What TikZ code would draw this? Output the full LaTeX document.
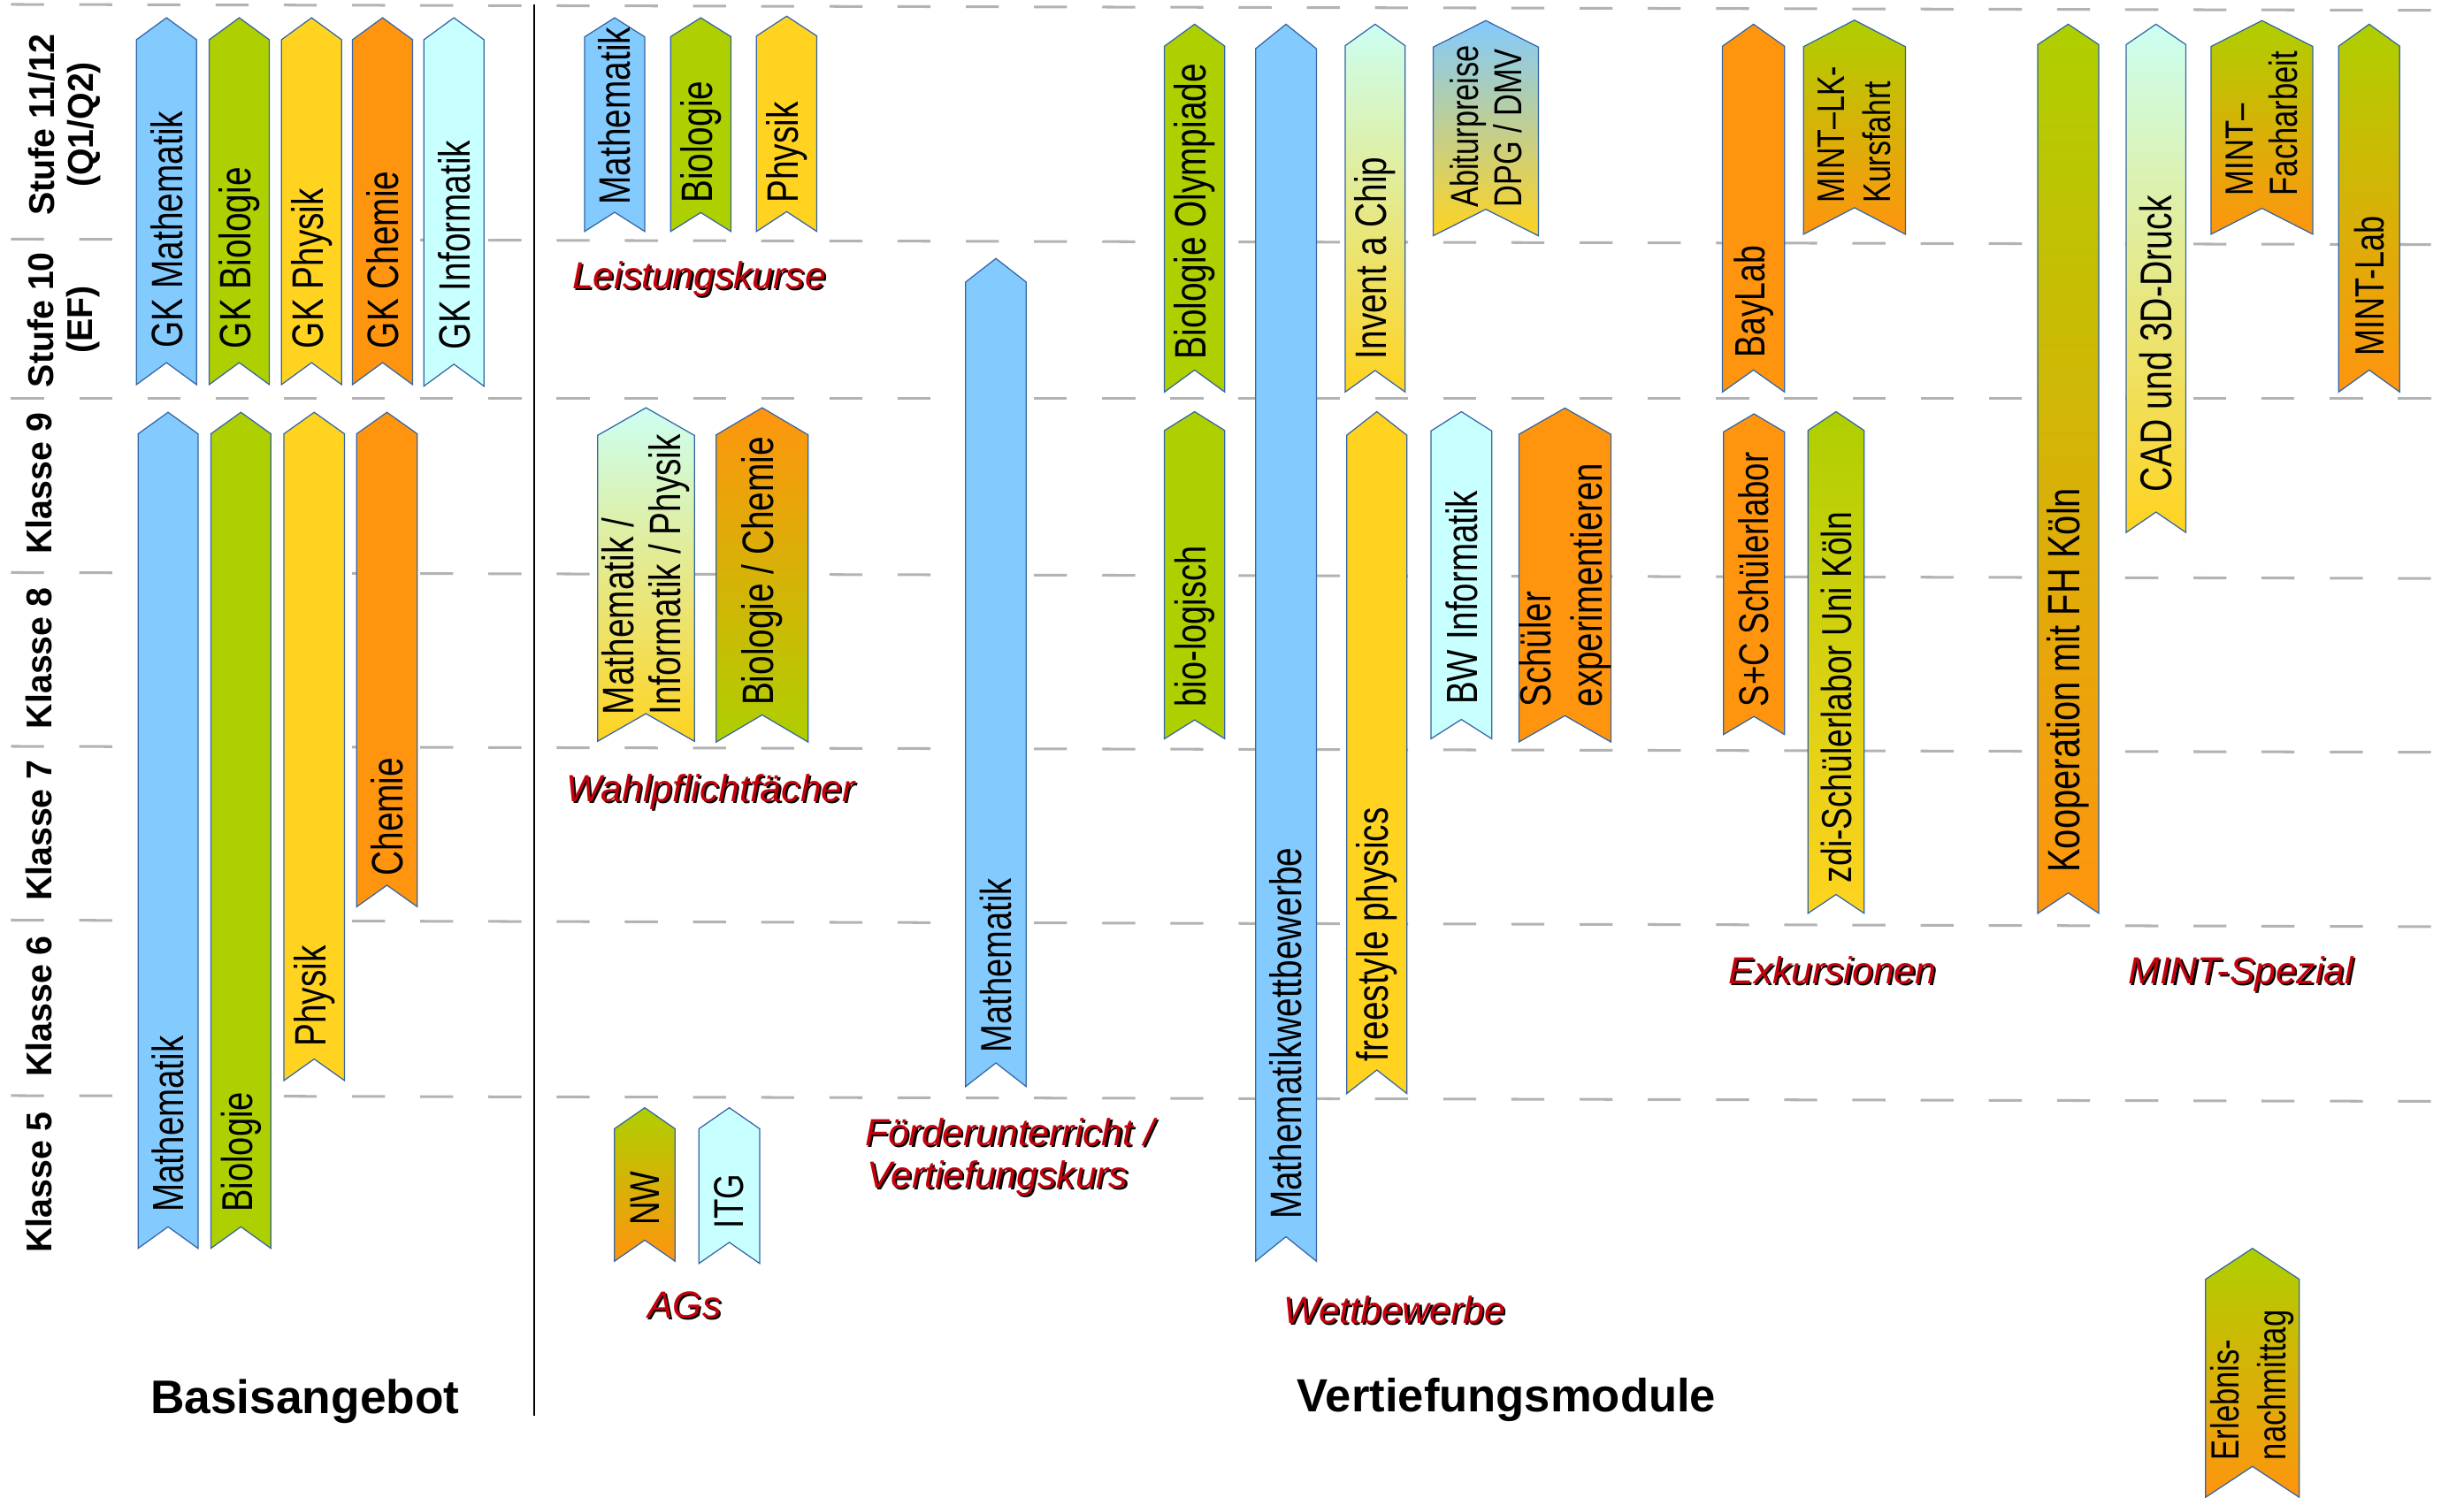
\documentclass[tikz,border=0pt]{standalone}
\usepackage{fontspec}
\setmainfont{Liberation Sans}
\newfontfamily\boxfont[FakeStretch=0.78]{Liberation Sans}
\newfontfamily\rowfont[FakeStretch=0.97]{Liberation Sans}
\definecolor{cblue}{HTML}{83CAFF}
\definecolor{cgreen}{HTML}{AECF00}
\definecolor{cyellow}{HTML}{FFD320}
\definecolor{corange}{HTML}{FF950E}
\definecolor{ccyan}{HTML}{C8FFFF}
\definecolor{cmint}{HTML}{CCFFF2}
\definecolor{cline}{HTML}{3465A4}
\definecolor{cgrid}{HTML}{B3B3B3}
\definecolor{cred}{HTML}{C5000B}
\tikzset{
  chevbox/.style={draw=cline, line width=0.7pt, line join=miter},
  btxt/.style={rotate=90, anchor=west, inner sep=0pt, align=left, text=black},
  rowlab/.style={rotate=90, inner sep=0pt, align=center, font=\rowfont\bfseries\fontsize{22.8}{24.5}\selectfont},
  grp/.style={anchor=base west, inner sep=0pt, font=\itshape\fontsize{24}{27}\selectfont, text=cred},
  grpsh/.style={grp, text=black},
  bigtitle/.style={anchor=base west, inner sep=0pt, font=\bfseries\fontsize{30}{34}\selectfont},
  gridline/.style={draw=cgrid, line width=1.7pt, dash pattern=on 21pt off 22.4pt},
}
% chevron: x0 x1 ytop ybot h style
\newcommand{\chev}[6]{%
  \path[chevbox,#6] (#1,{#3+#5}) -- ({(#1+#2)/2},#3) -- (#2,{#3+#5}) -- (#2,#4) -- ({(#1+#2)/2},{#4-#5}) -- (#1,#4) -- cycle;}
% box text: name x0 x1 ystart size skip text
\newcommand{\btext}[7]{%
  \node[btxt,font=\boxfont\fontsize{#5}{#6}\selectfont] (#1) at ({(#2+#3)/2},#4) {#7};}
% group label with shadow: name x y text
\newcommand{\grplabel}[4]{%
  \node[grpsh] (#1-sh) at ({#2+1.2},{#3+1.2}) {#4};
  \node[grp] (#1) at (#2,#3) {#4};}
\begin{document}
\begin{tikzpicture}[x=1pt,y=-1pt]
\useasboundingbox (0,0) rectangle (1568,953);
\fill[white] (0,0) rectangle (1568,953);
% grid lines
\draw[gridline] (7,2.8) -- (1568,6.6);
\draw[gridline] (7,152.2) -- (1568,155.7);
\draw[gridline] (7,253.5) -- (1568,253.5);
\draw[gridline] (7,364.4) -- (1568,368.2);
\draw[gridline] (7,475) -- (1568,478.8);
\draw[gridline] (7,585.6) -- (1568,589.8);
\draw[gridline] (7,697.3) -- (1568,701);
% separator
\draw[line width=1.4pt] (339.8,2.8) -- (339.8,900.8);
% row labels
\node[rowlab] (s1112) at (41.2,79.3) {Stufe 11/12\\(Q1/Q2)};
\node[rowlab] (s10) at (40.6,203.5) {Stufe 10\\(EF)};
\node[rowlab] (k9) at (25,307.7) {Klasse 9};
\node[rowlab] (k8) at (25,418.9) {Klasse 8};
\node[rowlab] (k7) at (25,528.6) {Klasse 7};
\node[rowlab] (k6) at (25,640.5) {Klasse 6};
\node[rowlab] (k5) at (25,752.4) {Klasse 5};
% Basisangebot
\chev{86.8}{125.1}{11.3}{244.8}{14}{fill=cblue}
\chev{133.1}{171.4}{11.3}{244.8}{14}{fill=cgreen}
\chev{179.1}{217.4}{11.3}{244.8}{14}{fill=cyellow}
\chev{224.3}{262.6}{11.3}{244.8}{14}{fill=corange}
\chev{269.7}{308}{11.3}{245.8}{14}{fill=ccyan}
\chev{87.9}{126}{262.4}{794.5}{13.7}{fill=cblue}
\chev{134.2}{172.4}{262.4}{794.5}{13.7}{fill=cgreen}
\chev{180.7}{219.2}{262.4}{687.7}{13.7}{fill=cyellow}
\chev{227}{265.5}{262.4}{577.1}{13.7}{fill=corange}
\btext{t-gkma}{86.8}{125.1}{221.5}{28}{32}{GK Mathematik}
\btext{t-gkbi}{133.1}{171.4}{222}{28}{32}{GK Biologie}
\btext{t-gkph}{179.1}{217.4}{222}{28}{32}{GK Physik}
\btext{t-gkch}{224.3}{262.6}{222}{28}{32}{GK Chemie}
\btext{t-gkin}{269.7}{308}{223}{28}{32}{GK Informatik}
\btext{t-ma5}{87.9}{126}{771.6}{27.8}{32}{Mathematik}
\btext{t-bi5}{134.2}{172.4}{771.6}{27.5}{32}{Biologie}
\btext{t-ph6}{180.7}{219.2}{666.3}{28}{32}{Physik}
\btext{t-ch7}{227}{265.5}{557.7}{28}{32}{Chemie}
% Leistungskurse
\chev{372}{410.3}{11.3}{147.3}{12.2}{fill=cblue}
\chev{426.8}{465.1}{11.3}{147.3}{12}{fill=cgreen}
\chev{481.4}{519.8}{10.3}{147.3}{12.6}{fill=cyellow}
\btext{t-lkma}{372}{410.3}{130.4}{28}{32}{Mathematik}
\btext{t-lkbi}{426.8}{465.1}{129.5}{28}{32}{Biologie}
\btext{t-lkph}{481.4}{519.8}{129.5}{28}{32}{Physik}
% Wahlpflicht
\chev{380.3}{441.9}{259.5}{471.8}{17.6}{top color=cmint,bottom color=cyellow}
\chev{455.7}{514.3}{259.5}{472.3}{17.3}{top color=corange,bottom color=cgreen}
\btext{t-wpmip}{380.3}{441.9}{455}{28}{30}{Mathematik /\\Informatik / Physik}
\btext{t-wpbc}{455.7}{514.3}{449.3}{28}{32}{Biologie / Chemie}
% Foerder
\chev{614.5}{653}{164.5}{691.5}{15}{fill=cblue}
\btext{t-fuma}{614.5}{653}{670}{27.5}{32}{Mathematik}
% AGs
\chev{391}{429.6}{705}{802.7}{13.4}{top color=cgreen,bottom color=corange}
\chev{444.8}{483.4}{705}{804.1}{13.4}{fill=ccyan}
\btext{t-nw}{391}{429.6}{780}{26.5}{30}{NW}
\btext{t-itg}{444.8}{483.4}{782}{26.5}{30}{ITG}
% Wettbewerbe
\chev{741}{779.4}{15.4}{249.5}{14}{fill=cgreen}
\chev{799}{837.7}{15.4}{802.7}{15.6}{fill=cblue}
\chev{856}{894.2}{15.4}{249.5}{13.7}{top color=cmint,bottom color=cyellow}
\chev{912}{979}{13.1}{150.1}{16.9}{top color=cblue,bottom color=cyellow}
\chev{741}{779.4}{262}{470.2}{12}{fill=cgreen}
\chev{857}{895.3}{262}{696}{15}{fill=cyellow}
\chev{910.6}{949.3}{262}{470.2}{12.3}{fill=ccyan}
\chev{966.6}{1025.1}{259.7}{472.2}{16.7}{fill=corange}
\btext{t-biol}{741}{779.4}{228.9}{28}{32}{Biologie Olympiade}
\btext{t-mawe}{799}{837.7}{776.3}{28}{32}{Mathematikwettbewerbe}
\btext{t-inv}{856}{894.2}{228.9}{28}{32}{Invent a Chip}
\btext{t-abi}{912}{979}{132.3}{24.8}{27.6}{Abiturpreise\\DPG / DMV}
\btext{t-biolog}{741}{779.4}{450}{27.4}{32}{bio-logisch}
\btext{t-free}{857}{895.3}{675.6}{28}{32}{freestyle physics}
\btext{t-bwi}{910.6}{949.3}{448.6}{27.8}{32}{BW Informatik}
\btext{t-schex}{966.6}{1025.1}{450}{27.7}{32.5}{Schüler\\experimentieren}
% Exkursionen
\chev{1096.1}{1135.6}{15.4}{249.5}{14}{fill=corange}
\chev{1147.7}{1212.5}{12.8}{149.1}{16.9}{top color=cgreen,bottom color=corange}
\chev{1096.7}{1135.6}{263.4}{467.5}{11.5}{fill=corange}
\chev{1150.5}{1186.3}{262}{581.3}{12}{top color=cgreen,bottom color=cyellow}
\btext{t-bay}{1096.1}{1135.6}{227.9}{27}{31}{BayLab}
\btext{t-mlk}{1147.7}{1212.5}{129.4}{24.5}{29.5}{MINT–LK-\\Kursfahrt}
\btext{t-sc}{1096.7}{1135.6}{450.1}{26.4}{30}{S+C Schülerlabor}
\btext{t-zdi}{1150.5}{1186.3}{562}{26.8}{30}{zdi-Schülerlabor Uni Köln}
% MINT-Spezial
\chev{1296.7}{1335.6}{15.4}{581.3}{13}{top color=cgreen,bottom color=corange}
\chev{1353}{1391}{15.4}{338.9}{13}{top color=cmint,bottom color=cyellow}
\chev{1407}{1471.8}{13.1}{149.1}{16.5}{top color=cgreen,bottom color=corange}
\chev{1488.2}{1527.1}{15.4}{249.5}{14}{top color=cgreen,bottom color=corange}
\chev{1403.5}{1463.2}{794.5}{953}{19.7}{top color=cgreen,bottom color=corange}
\btext{t-koop}{1296.7}{1335.6}{555.5}{28.8}{32}{Kooperation mit FH Köln}
\btext{t-cad}{1353}{1391}{313.6}{28.3}{32}{CAD und 3D-Druck}
\btext{t-mfa}{1407}{1471.8}{124.8}{25}{28}{MINT–\\Facharbeit}
\btext{t-mlab}{1488.2}{1527.1}{227}{26}{30}{MINT-Lab}
\btext{t-erl}{1403.5}{1463.2}{929.5}{25}{29.8}{Erlebnis-\\nachmittag}
% group labels
\grplabel{lk}{364}{183.9}{Leistungskurse}
\grplabel{wp}{360.2}{510.3}{Wahlpflichtfächer}
\grplabel{fu1}{550.3}{729}{Förderunterricht /}
\grplabel{fu2}{551.7}{756.2}{Vertiefungskurs}
\grplabel{ag}{412}{838.6}{AGs}
\grplabel{wb}{816.8}{842.4}{Wettbewerbe}
\grplabel{ex}{1099.9}{626}{Exkursionen}
\grplabel{ms}{1354.2}{626}{MINT-Spezial}
% titles
\node[bigtitle] (basis) at (95.5,899.8) {Basisangebot};
\node[bigtitle,font=\bfseries\fontsize{29.6}{34}\selectfont] (vert) at (825.3,898.8) {Vertiefungsmodule};
\end{tikzpicture}
\end{document}
